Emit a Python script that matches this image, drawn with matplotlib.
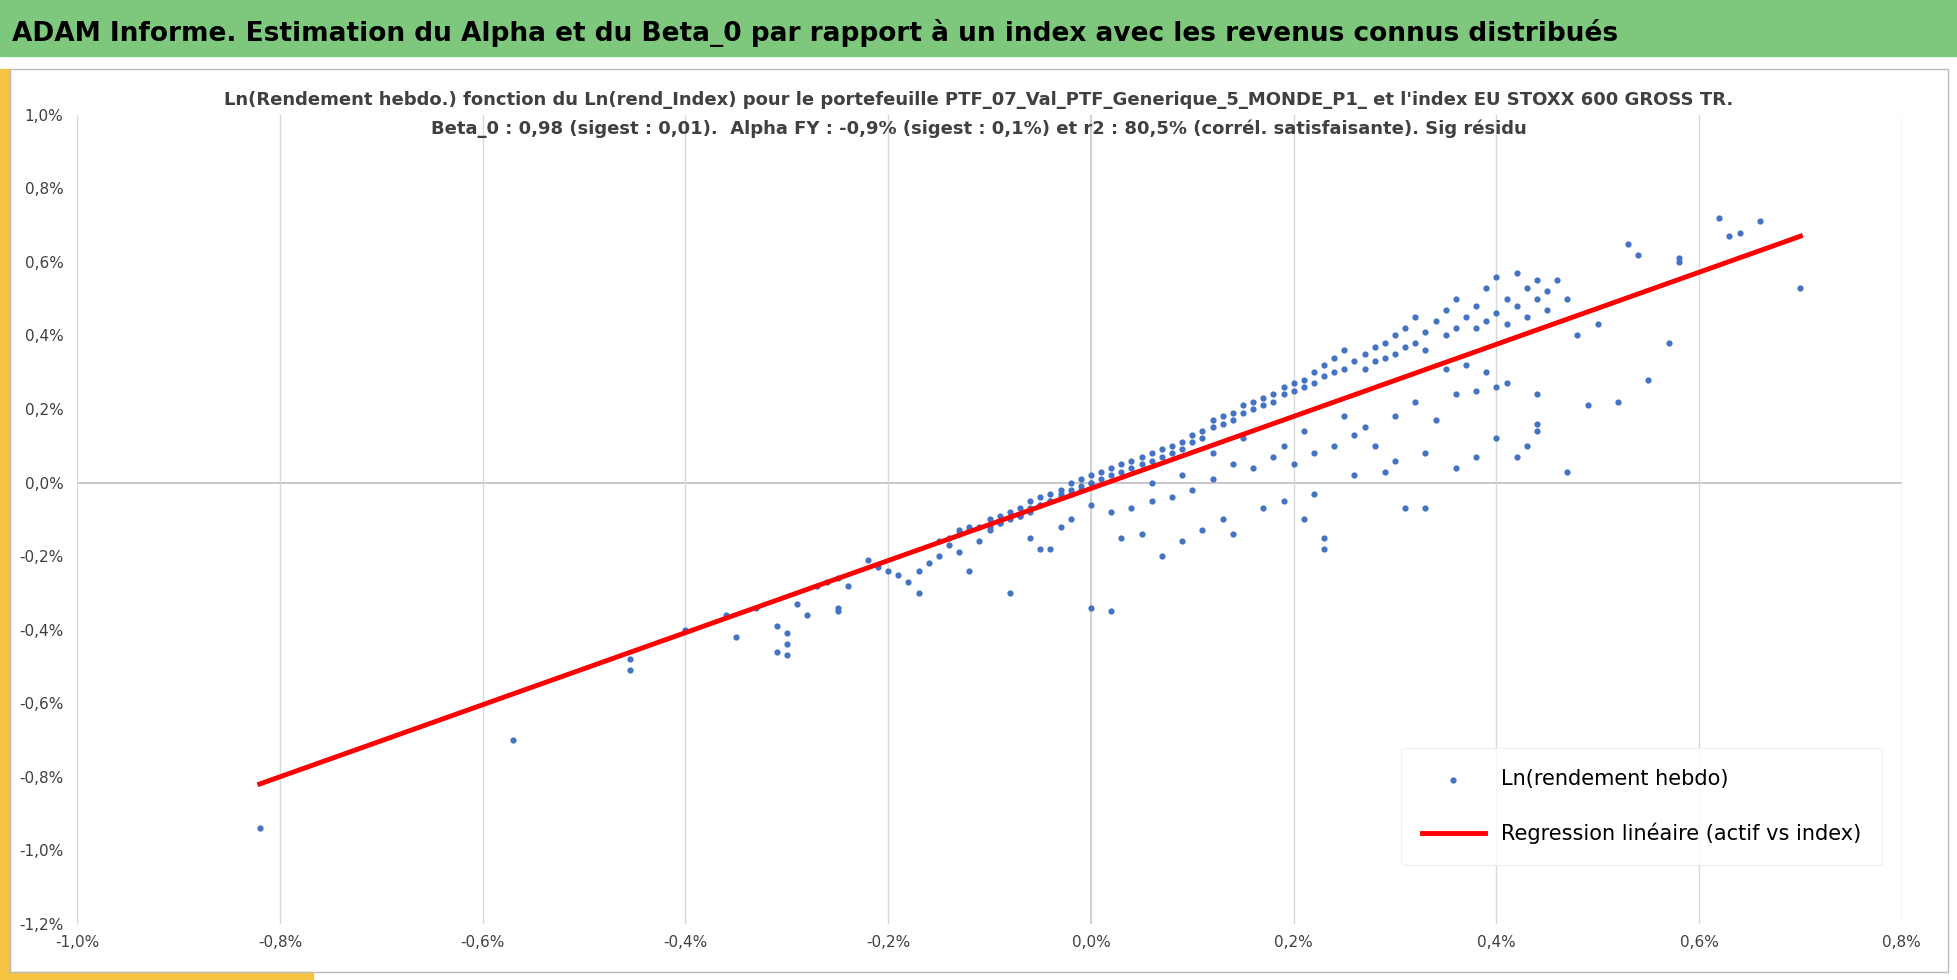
import matplotlib
matplotlib.use("Agg")
import matplotlib.pyplot as plt
from matplotlib.patches import Rectangle
from matplotlib.ticker import FuncFormatter

idx_ret = [-0.82,-0.57,-0.455,-0.455,-0.40,-0.36,-0.35,-0.33,-0.31,-0.30,-0.30,-0.30,-0.31,-0.29,-0.28,-0.27,-0.26,-0.25,-0.25,-0.25,-0.24,-0.22,-0.21,-0.20,-0.19,-0.18,-0.17,-0.17,-0.16,-0.15,-0.14,-0.13,-0.12,-0.13,-0.12,-0.11,-0.10,-0.09,-0.08,-0.07,-0.06,-0.05,-0.05,-0.04,-0.03,-0.02,-0.01,0.00,0.00,0.02,
 -0.15,-0.14,-0.13,-0.12,-0.11,-0.10,-0.10,-0.09,-0.09,-0.08,-0.08,-0.07,-0.07,-0.06,-0.06,-0.05,-0.05,-0.04,-0.04,-0.03,-0.03,-0.02,-0.02,-0.01,-0.01,0.00,0.00,0.01,0.01,0.02,0.02,0.03,0.03,0.04,0.04,0.05,0.05,0.06,0.06,0.07,0.07,0.08,0.08,0.09,0.09,0.10,0.10,0.11,0.11,0.12,0.12,0.13,0.13,0.14,0.14,0.15,0.15,0.16,0.16,0.17,0.17,0.18,0.18,0.19,0.19,0.20,0.20,0.21,0.21,0.22,0.22,0.23,0.23,0.24,0.24,0.25,0.25,0.26,0.27,0.27,0.28,0.28,0.29,0.29,0.30,0.30,0.31,0.31,0.32,0.32,0.33,0.33,0.34,0.35,0.35,0.36,0.36,0.37,0.38,0.38,0.39,0.39,0.40,0.40,0.41,0.41,0.42,0.42,0.43,0.43,0.44,0.44,0.45,0.45,0.46,0.47,
 0.50,0.48,0.53,0.54,0.58,0.58,0.62,0.63,0.64,0.66,0.70,0.57,0.55,0.52,0.49,0.44,0.44,0.42,0.43,0.47,0.44,0.41,0.39,0.37,0.40,0.35,
 0.30,0.32,0.34,0.36,0.38,0.33,0.36,0.38,0.40,0.30,0.28,0.26,0.24,0.22,0.20,0.18,0.16,0.14,0.12,0.10,0.08,0.06,0.04,0.22,0.23,0.23,0.21,0.19,0.17,0.14,0.13,0.11,0.09,0.07,0.05,0.03,0.31,0.33,0.26,0.29,0.27,0.25,0.21,0.19,0.15,0.12,0.09,0.06,0.02,0.00,-0.02,-0.03,-0.06,-0.04]
ptf_ret = [-0.94,-0.70,-0.48,-0.51,-0.40,-0.36,-0.42,-0.34,-0.39,-0.41,-0.44,-0.47,-0.46,-0.33,-0.36,-0.28,-0.27,-0.35,-0.34,-0.26,-0.28,-0.21,-0.23,-0.24,-0.25,-0.27,-0.24,-0.30,-0.22,-0.20,-0.17,-0.13,-0.12,-0.19,-0.24,-0.16,-0.13,-0.11,-0.30,-0.09,-0.07,-0.06,-0.18,-0.05,-0.03,-0.02,-0.02,0.00,-0.34,-0.35,
 -0.16,-0.15,-0.14,-0.13,-0.12,-0.10,-0.12,-0.09,-0.11,-0.08,-0.10,-0.07,-0.09,-0.05,-0.08,-0.04,-0.06,-0.03,-0.05,-0.02,-0.04,0.00,-0.03,0.01,-0.01,0.02,0.00,0.03,0.01,0.04,0.02,0.05,0.03,0.06,0.04,0.07,0.05,0.08,0.06,0.09,0.07,0.10,0.08,0.11,0.09,0.13,0.11,0.14,0.12,0.15,0.17,0.16,0.18,0.17,0.19,0.19,0.21,0.20,0.22,0.21,0.23,0.22,0.24,0.24,0.26,0.25,0.27,0.26,0.28,0.27,0.30,0.29,0.32,0.30,0.34,0.31,0.36,0.33,0.35,0.31,0.37,0.33,0.38,0.34,0.40,0.35,0.42,0.37,0.45,0.38,0.41,0.36,0.44,0.40,0.47,0.42,0.50,0.45,0.48,0.42,0.53,0.44,0.46,0.56,0.50,0.43,0.57,0.48,0.53,0.45,0.50,0.55,0.52,0.47,0.55,0.50,
 0.43,0.40,0.65,0.62,0.60,0.61,0.72,0.67,0.68,0.71,0.53,0.38,0.28,0.22,0.21,0.16,0.24,0.07,0.10,0.03,0.14,0.27,0.30,0.32,0.26,0.31,
 0.18,0.22,0.17,0.24,0.25,0.08,0.04,0.07,0.12,0.06,0.10,0.13,0.10,0.08,0.05,0.07,0.04,0.05,0.01,-0.02,-0.04,-0.05,-0.07,-0.03,-0.15,-0.18,-0.10,-0.05,-0.07,-0.14,-0.10,-0.13,-0.16,-0.20,-0.14,-0.15,-0.07,-0.07,0.02,0.03,0.15,0.18,0.14,0.10,0.12,0.08,0.02,0.00,-0.08,-0.06,-0.10,-0.12,-0.15,-0.18]
reg_x = [-0.82, 0.70]
beta, alpha = 0.98, -0.016

plt.rcParams["font.family"] = ["DejaVu Sans"]

fig = plt.figure(figsize=(19.58, 9.8), dpi=100)
fig.patches.append(Rectangle((0, 0.943), 1, 0.057, transform=fig.transFigure, color="#7DC87D", zorder=0))
fig.patches.append(Rectangle((0, 0.0), 0.005, 0.93, transform=fig.transFigure, color="#F5C242", zorder=0))
fig.patches.append(Rectangle((0, 0.0), 0.16, 0.008, transform=fig.transFigure, color="#F5C242", zorder=0))
fig.patches.append(Rectangle((0.005, 0.008), 0.99, 0.922, transform=fig.transFigure, fill=False, ec="#BBBBBB", lw=1, zorder=0))
fig.text(0.006, 0.966, "ADAM Informe. Estimation du Alpha et du Beta_0 par rapport à un index avec les revenus connus distribués",
         fontsize=19, fontweight="bold", va="center", ha="left")
fig.text(0.5, 0.898, "Ln(Rendement hebdo.) fonction du Ln(rend_Index) pour le portefeuille PTF_07_Val_PTF_Generique_5_MONDE_P1_ et l'index EU STOXX 600 GROSS TR.",
         fontsize=13, fontweight="bold", color="#404040", ha="center", va="center")
fig.text(0.5, 0.869, "Beta_0 : 0,98 (sigest : 0,01).  Alpha FY : -0,9% (sigest : 0,1%) et r2 : 80,5% (corrél. satisfaisante). Sig résidu",
         fontsize=13, fontweight="bold", color="#404040", ha="center", va="center")

ax = fig.add_axes([0.0395, 0.0573, 0.9318, 0.8255])
ax.scatter(idx_ret, ptf_ret, s=12, color="#4472C4", label="Ln(rendement hebdo)", zorder=3)
ax.plot(reg_x, [beta * v + alpha for v in reg_x], color="#FF0000", lw=3.5, label="Regression linéaire (actif vs index)", zorder=4)
ax.set_xlim(-1.0, 0.8)
ax.set_ylim(-1.2, 1.0)
ax.set_xticks([i / 10 for i in range(-10, 9, 2)])
ax.set_yticks([i / 10 for i in range(-12, 11, 2)])
fmt = FuncFormatter(lambda v, p: f"{v:.1f}%".replace(".", ","))
ax.xaxis.set_major_formatter(fmt)
ax.yaxis.set_major_formatter(fmt)
ax.grid(axis="x", color="#D9D9D9", lw=1)
ax.axhline(0, color="#BFBFBF", lw=1.2, zorder=1)
ax.axvline(0, color="#BFBFBF", lw=1.2, zorder=1)
for s in ax.spines.values():
    s.set_visible(False)
ax.tick_params(axis="x", length=0, labelsize=11, colors="#404040", pad=8)
ax.tick_params(axis="y", length=0, labelsize=11, colors="#404040", pad=10)
ax.legend(loc="lower right", bbox_to_anchor=(0.995, 0.06), fontsize=15, frameon=True, edgecolor="#EEEEEE",
          labelspacing=1.6, handlelength=3, borderpad=1.0)
plt.savefig("out.png", dpi=100)
